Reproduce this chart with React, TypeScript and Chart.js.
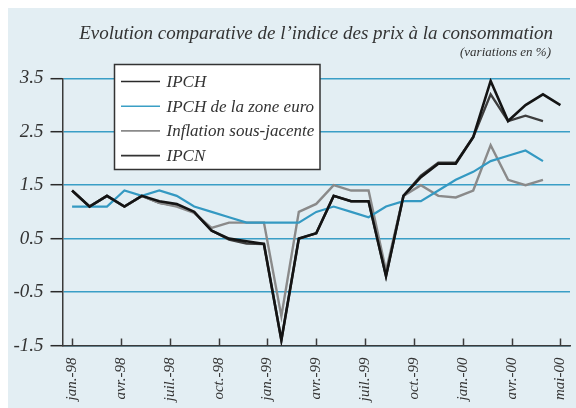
import React, { useEffect, useRef } from "react";
import { Chart, registerables } from "chart.js";

Chart.register(...registerables);

// Monthly categories (jan. 1998 – mai 2000)
const months = [
  "jan.-98", "févr.-98", "mars-98", "avr.-98", "mai-98", "juin-98", "juil.-98", "août-98", "sept.-98", "oct.-98", "nov.-98", "déc.-98",
  "jan.-99", "févr.-99", "mars-99", "avr.-99", "mai-99", "juin-99", "juil.-99", "août-99", "sept.-99", "oct.-99", "nov.-99", "déc.-99",
  "jan.-00", "févr.-00", "mars-00", "avr.-00", "mai-00",
];

const ipch = [1.4, 1.1, 1.3, 1.1, 1.3, 1.2, 1.15, 1.0, 0.65, 0.5, 0.45, 0.4, -1.4, 0.5, 0.6, 1.3, 1.2, 1.2, -0.2, 1.3, 1.65, 1.9, 1.9, 2.4, 3.45, 2.7, 3.0, 3.2, 3.0];
const ipchZoneEuro = [1.1, 1.1, 1.1, 1.4, 1.3, 1.4, 1.3, 1.1, 1.0, 0.9, 0.8, 0.8, 0.8, 0.8, 1.0, 1.1, 1.0, 0.9, 1.1, 1.2, 1.2, 1.4, 1.6, 1.75, 1.95, 2.05, 2.15, 1.95];
const inflationSousJacente = [1.4, 1.1, 1.3, 1.1, 1.3, 1.17, 1.1, 0.98, 0.7, 0.8, 0.8, 0.8, -0.95, 1.0, 1.15, 1.5, 1.4, 1.4, -0.1, 1.3, 1.5, 1.3, 1.27, 1.4, 2.25, 1.6, 1.5, 1.6];
const ipcn = [1.4, 1.1, 1.3, 1.1, 1.3, 1.17, 1.12, 0.99, 0.65, 0.48, 0.41, 0.4, -1.4, 0.5, 0.6, 1.3, 1.2, 1.2, -0.2, 1.3, 1.68, 1.92, 1.92, 2.4, 3.2, 2.7, 2.8, 2.7];

const xTickLabels = ["jan.-98", "avr.-98", "juil.-98", "oct.-98", "jan.-99", "avr.-99", "juil.-99", "oct.-99", "jan.-00", "avr.-00", "mai-00"];
const yTickValues = [-1.5, -0.5, 0.5, 1.5, 2.5, 3.5];

const seriesLabels = ["IPCH", "IPCH de la zone euro", "Inflation sous-jacente", "IPCN"];

const TITLE = "Evolution comparative de l\u2019indice des prix à la consommation";
const SUBTITLE = "(variations en %)";

const SERIF = "'Liberation Serif', 'DejaVu Serif', serif";
const TEXT_COLOR = "#333";

const toPoints = (arr: number[]) => arr.map((v, i) => ({ x: i, y: v }));

const decorPlugin = {
  id: "decor",
  afterDraw(chart: any) {
    const ctx = chart.ctx;
    const area = chart.chartArea;
    const xs = chart.scales.x;
    ctx.save();
    // inner x ticks
    ctx.strokeStyle = "#3a3a3a";
    ctx.lineWidth = 1.5;
    xs.ticks.forEach((t: any) => {
      const px = Math.round(xs.getPixelForValue(t.value)) + 0.5;
      ctx.beginPath();
      ctx.moveTo(px, area.bottom);
      ctx.lineTo(px, area.bottom - 7);
      ctx.stroke();
    });
    // titles
    ctx.fillStyle = TEXT_COLOR;
    ctx.textAlign = "right";
    ctx.textBaseline = "alphabetic";
    ctx.font = `italic 19px ${SERIF}`;
    ctx.fillText(TITLE, 545, 31);
    ctx.font = `italic 13px ${SERIF}`;
    ctx.fillText(SUBTITLE, 543, 48);
    // legend box
    const bx = 106.5, by = 56.5, bw = 205.5, bh = 105;
    ctx.fillStyle = "#ffffff";
    ctx.fillRect(bx, by, bw, bh);
    ctx.strokeStyle = "#333";
    ctx.lineWidth = 1.5;
    ctx.strokeRect(bx, by, bw, bh);
    ctx.textAlign = "left";
    ctx.textBaseline = "middle";
    ctx.font = `italic 17px ${SERIF}`;
    chart.data.datasets.forEach((ds: any, i: number) => {
      const y = 73.5 + i * 24.7;
      ctx.strokeStyle = ds.legendColor || ds.borderColor;
      ctx.lineWidth = 1.6;
      ctx.beginPath();
      ctx.moveTo(113, y);
      ctx.lineTo(152, y);
      ctx.stroke();
      ctx.fillStyle = TEXT_COLOR;
      ctx.fillText(ds.label, 158.5, y + 1);
    });
    ctx.restore();
  },
};

export default function App() {
  const ref = useRef<HTMLCanvasElement | null>(null);

  useEffect(() => {
    if (!ref.current) return;
    const chart = new Chart(ref.current, {
      type: "line",
      data: {
        labels: months,
        datasets: [
          { label: seriesLabels[0], data: toPoints(ipch), borderColor: "#141414", legendColor: "#2a2a2a", borderWidth: 2.6 } as any,
          { label: seriesLabels[1], data: toPoints(ipchZoneEuro), borderColor: "#3499c2", legendColor: "#3a9fc5", borderWidth: 2.2 } as any,
          { label: seriesLabels[2], data: toPoints(inflationSousJacente), borderColor: "#8a8a8a", legendColor: "#8a8a8a", borderWidth: 2.4 } as any,
          { label: seriesLabels[3], data: toPoints(ipcn), borderColor: "#3e3e3e", legendColor: "#333", borderWidth: 2.4 } as any,
        ],
      },
      options: {
        animation: false,
        responsive: false,
        maintainAspectRatio: false,
        events: [],
        elements: { point: { radius: 0 }, line: { tension: 0, borderJoinStyle: "miter" } },
        layout: { padding: { top: 70.3, right: 6, left: 0, bottom: 0 } },
        plugins: { legend: { display: false }, title: { display: false }, tooltip: { enabled: false } },
        scales: {
          x: {
            type: "linear",
            min: -0.55,
            max: 28.55,
            afterBuildTicks: (s: any) => {
              const n = xTickLabels.length - 1;
              const last = months.length - 1;
              s.ticks = xTickLabels.map((_, i) => ({ value: (i * last) / n }));
            },
            afterFit: (s: any) => {
              s.height = 62.5;
              s.paddingLeft = 0;
              s.paddingRight = 0;
            },
            grid: { display: true, drawOnChartArea: false, drawTicks: false },
            border: { display: true, color: "#3a3a3a", width: 1.5 },
            ticks: {
              autoSkip: false,
              minRotation: 90,
              maxRotation: 90,
              padding: 12,
              color: TEXT_COLOR,
              font: { family: SERIF, style: "italic", size: 15 },
              callback: (_v: any, idx: number) => xTickLabels[idx],
            },
          },
          y: {
            min: -1.5,
            max: 3.5,
            afterBuildTicks: (s: any) => {
              s.ticks = yTickValues.map((v) => ({ value: v }));
            },
            afterFit: (s: any) => {
              s.width = 54.5;
              s.paddingTop = 0;
              s.paddingBottom = 0;
            },
            grid: { color: "#3a9ec6", lineWidth: 1.4, tickColor: "#2a2a2a", tickLength: 12, tickWidth: 1.5 },
            border: { display: true, color: "#3a3a3a", width: 1.5 },
            ticks: {
              padding: 7,
              color: TEXT_COLOR,
              font: { family: SERIF, style: "italic", size: 19 },
              callback: (v: any) => String(v),
            },
          },
        },
      } as any,
      plugins: [decorPlugin],
    });
    return () => chart.destroy();
  }, []);

  return (
    <div
      style={{
        position: "fixed",
        left: 8,
        top: 8,
        width: 568,
        height: 400,
        background: "#e3eef3",
        overflow: "hidden",
      }}
    >
      <canvas ref={ref} width={568} height={400} style={{ display: "block", width: 568, height: 400 }} />
    </div>
  );
}
